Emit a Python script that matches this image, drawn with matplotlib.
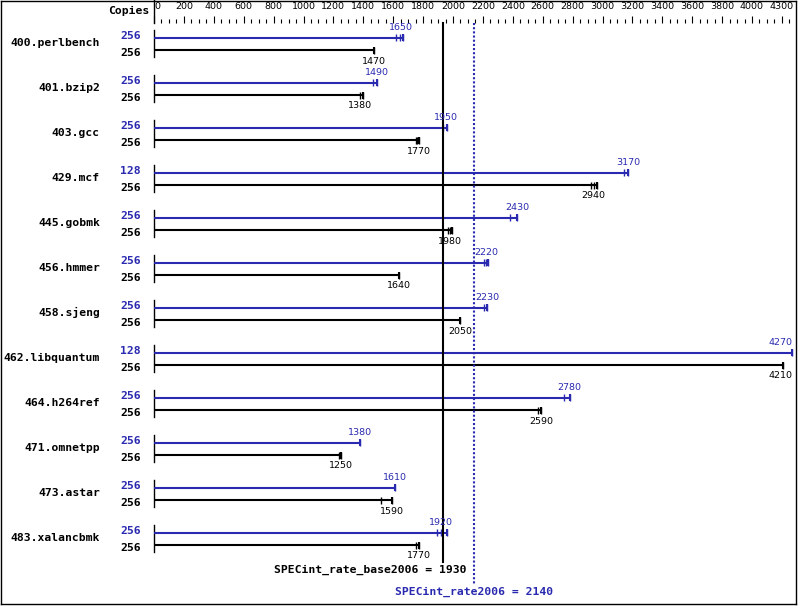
import matplotlib
matplotlib.use("Agg")
import matplotlib.pyplot as plt
from matplotlib.lines import Line2D

benchmarks = ["400.perlbench", "401.bzip2", "403.gcc", "429.mcf", "445.gobmk",
              "456.hmmer", "458.sjeng", "462.libquantum", "464.h264ref",
              "471.omnetpp", "473.astar", "483.xalancbmk"]
peak_copies = [256, 256, 256, 128, 256, 256, 256, 128, 256, 256, 256, 256]
base_copies = [256, 256, 256, 256, 256, 256, 256, 256, 256, 256, 256, 256]
peak_ratio = [1650, 1490, 1950, 3170, 2430, 2220, 2230, 4270, 2780, 1380, 1610, 1920]
base_ratio = [1470, 1380, 1770, 2940, 1980, 1640, 2050, 4210, 2590, 1250, 1590, 1770]
# individual run results (tick marks at bar ends)
peak_runs = [[1620, 1645, 1665], [1465, 1490], [1935, 1957], [3145, 3170],
             [2380, 2430], [2205, 2220, 2235], [2207, 2230], [4270],
             [2745, 2780], [1380], [1610], [1895, 1920, 1960]]
base_runs = [[1470], [1380, 1400], [1750, 1760, 1775], [2920, 2940, 2965],
             [1965, 1980, 1995], [1640], [2050], [4210],
             [2570, 2590], [1240, 1250], [1520, 1590], [1755, 1770]]
base_score = 1930
peak_score = 2140
tick_values = list(range(0, 4001, 200)) + [4200]
tick_labels = [str(v) for v in range(0, 4001, 200)] + ["4300"]

BLUE = "#2a2ab0"
W, H = 799, 606
X0, SCALE = 154, 0.1495   # pixel of value 0, pixels per unit
TOP = 23


def px(x):
    return (x - X0) / SCALE


fig = plt.figure(figsize=(W / 100, H / 100), dpi=100)
ax = fig.add_axes([X0 / W, 0, (795 - X0) / W, (H - TOP) / H])
ax.set_xlim(0, px(795))
ax.set_ylim(H, TOP)
for s in ax.spines.values():
    s.set_visible(False)
ax.set_yticks([])
ax.xaxis.tick_top()
ax.set_xticks(tick_values)
ax.set_xticklabels(tick_labels, fontsize=6.8, family="DejaVu Sans")
ax.get_xticklabels()[0].set_ha("left")
ax.set_xticks(range(0, 4251, 50), minor=True)
ax.tick_params(axis="x", which="major", length=5, width=0.8, pad=3.5)
ax.tick_params(axis="x", which="minor", length=3, width=0.8)

mono = dict(family="DejaVu Sans Mono", fontweight="bold", fontsize=8.2)

for i, name in enumerate(benchmarks):
    yb = 37.7 + 45 * i
    yk = yb + 12.3
    ax.plot([0, 0], [yb - 7.5, yk + 7], color="black", lw=1.0, clip_on=False)
    ax.text(px(100), (yb + yk) / 2 - 1, name, ha="right", va="center", **mono)
    ax.text(px(141), yb - 2, str(peak_copies[i]), ha="right", va="center",
            color=BLUE, **mono)
    ax.text(px(141), yk + 3, str(base_copies[i]), ha="right", va="center", **mono)

    for y, runs, val, col, dy in [(yb, peak_runs[i], peak_ratio[i], BLUE, -10.5),
                                  (yk, base_runs[i], base_ratio[i], "black", 11)]:
        ax.plot([0, max(runs)], [y, y], color=col, lw=1.5, solid_capstyle="butt",
                clip_on=False)
        ax.vlines(runs, y - 3.5, y + 3.5, color=col, lw=1.0, clip_on=False)
        ax.vlines(max(runs), y - 3.5, y + 3.5, color=col, lw=1.5, clip_on=False)
        if val > 4100:
            ax.text(4268, y + dy, str(val), ha="right", va="center", color=col,
                    fontsize=6.8)
        else:
            ax.text(val, y + dy, str(val), ha="center", va="center", color=col,
                    fontsize=6.8)

ax.plot([base_score, base_score], [TOP, 562], color="black", lw=1.5, clip_on=False)
ax.plot([peak_score, peak_score], [TOP, 584], color=BLUE, lw=1.5,
        linestyle=(0, (1, 1)), clip_on=False)
ax.text(px(467), 570, "SPECint_rate_base2006 = %d" % base_score, ha="right",
        va="center", **mono)
ax.text(peak_score, 592, "SPECint_rate2006 = %d" % peak_score, ha="center",
        va="center", color=BLUE, **mono)

ax.text(px(149), 10.5, "Copies", ha="right", va="center", **mono)
ax.plot([0, 0], [0, TOP], color="black", lw=1.0, clip_on=False)

# frame round the picture
for xs, ys in [([0.5, 795.5], [0.5, 0.5]), ([0.5, 795.5], [603.5, 603.5]),
               ([0.5, 0.5], [0.5, 603.5]), ([795.5, 795.5], [0.5, 603.5])]:
    fig.add_artist(Line2D([x / W for x in xs], [1 - y / H for y in ys],
                          color="black", lw=1.0))

fig.savefig("out.png", dpi=100)
